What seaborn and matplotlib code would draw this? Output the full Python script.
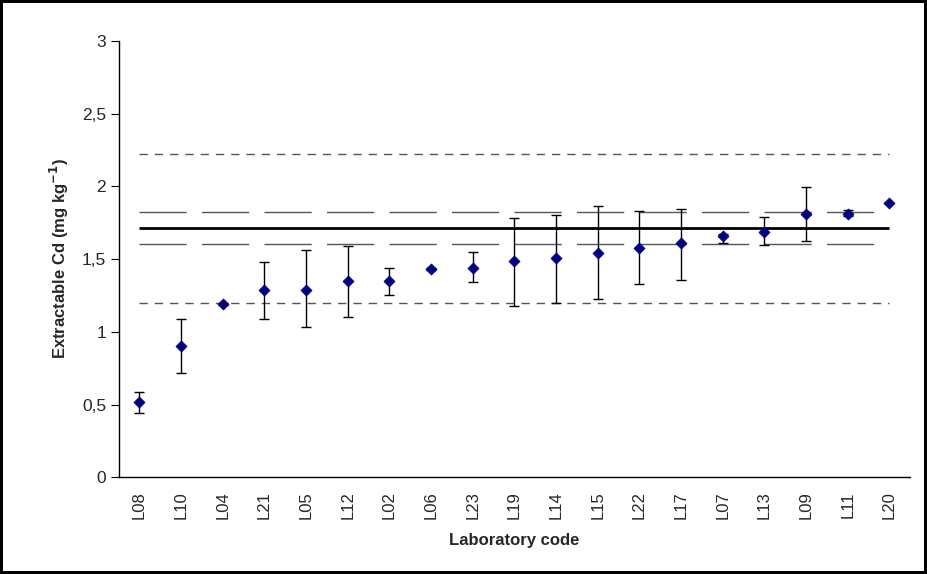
import numpy as np
import pandas as pd
import seaborn as sns
import matplotlib
matplotlib.use("Agg")
import matplotlib.pyplot as plt

# Data
labs = ["L08", "L10", "L04", "L21", "L05", "L12", "L02", "L06", "L23", "L19",
        "L14", "L15", "L22", "L17", "L07", "L13", "L09", "L11", "L20"]
cd_mean = [0.515, 0.905, 1.19, 1.285, 1.29, 1.35, 1.35, 1.43, 1.44, 1.487,
           1.505, 1.544, 1.578, 1.608, 1.66, 1.688, 1.81, 1.81, 1.885]
err_low = [0.444, 0.719, 1.185, 1.09, 1.035, 1.10, 1.255, 1.425, 1.34, 1.18,
           1.20, 1.228, 1.33, 1.358, 1.608, 1.597, 1.626, 1.794, 1.885]
err_high = [0.588, 1.088, 1.195, 1.48, 1.56, 1.59, 1.44, 1.435, 1.545, 1.78,
            1.80, 1.867, 1.828, 1.846, 1.67, 1.79, 1.997, 1.84, 1.885]

assigned = 1.71
uncert_band = [1.60, 1.82]
target_band = [1.20, 2.22]

yticks = [0, 0.5, 1, 1.5, 2, 2.5, 3]
ytick_labels = ["0", "0,5", "1", "1,5", "2", "2,5", "3"]

df = pd.DataFrame({"lab": labs, "cd": cd_mean, "lo": err_low, "hi": err_high})

sns.set_style("white")
plt.rcParams["font.family"] = ["Liberation Sans", "DejaVu Sans"]

fig = plt.figure(figsize=(9.27, 5.74), dpi=100)
ax = fig.add_axes([0.128, 0.1685, 0.854, 0.7605])

x = np.arange(len(labs))
n = len(labs)

# reference lines
ax.hlines(assigned, 0, n - 1, color="black", lw=2.0, zorder=2)
for v in uncert_band:
    ax.hlines(v, 0, n - 1, color="#555555", lw=1.0, linestyles=(0, (34, 11)), zorder=1)
for v in target_band:
    ax.hlines(v, 0, n - 1, color="#555555", lw=1.0, linestyles=(0, (6, 5)), zorder=1)

# error bars
yerr = [df["cd"] - df["lo"], df["hi"] - df["cd"]]
ax.errorbar(x, df["cd"], yerr=yerr, fmt="none", ecolor="black", elinewidth=1.0,
            capsize=3.8, capthick=1.0, zorder=3)

sns.scatterplot(data=df, x="lab", y="cd", marker="D", s=32, color="#000080",
                edgecolor="#000080", linewidth=0.5, ax=ax, zorder=4)

ax.set_xlim(-0.5, n - 0.5)
ax.set_ylim(0, 3)
ax.set_yticks(yticks)
ax.set_yticklabels(ytick_labels, fontsize=12.5)
ax.set_xticks(x)
ax.set_xticklabels(labs, rotation=90, fontsize=12)
ax.set_xticks(np.arange(-0.5, n, 1.0), minor=True)
ax.tick_params(axis="x", which="major", length=0, pad=10)
ax.tick_params(axis="x", which="minor", length=5, width=0.8, color="black", direction="out")
ax.tick_params(axis="y", length=6, width=0.8, color="black", direction="out", left=True, pad=3)

for side in ["top", "right"]:
    ax.spines[side].set_visible(False)
for side in ["left", "bottom"]:
    ax.spines[side].set_color("black")
    ax.spines[side].set_linewidth(1.0)

ax.set_ylabel("Extractable Cd (mg kg$^{\\mathbf{-1}}$)", fontsize=12, fontweight="bold", labelpad=8)
ax.set_xlabel("Laboratory code", fontsize=12, fontweight="bold", labelpad=10)

fig.patch.set_edgecolor("black")
fig.patch.set_linewidth(4)
fig.savefig("out.png", dpi=100, edgecolor=fig.get_edgecolor(), facecolor="white")
